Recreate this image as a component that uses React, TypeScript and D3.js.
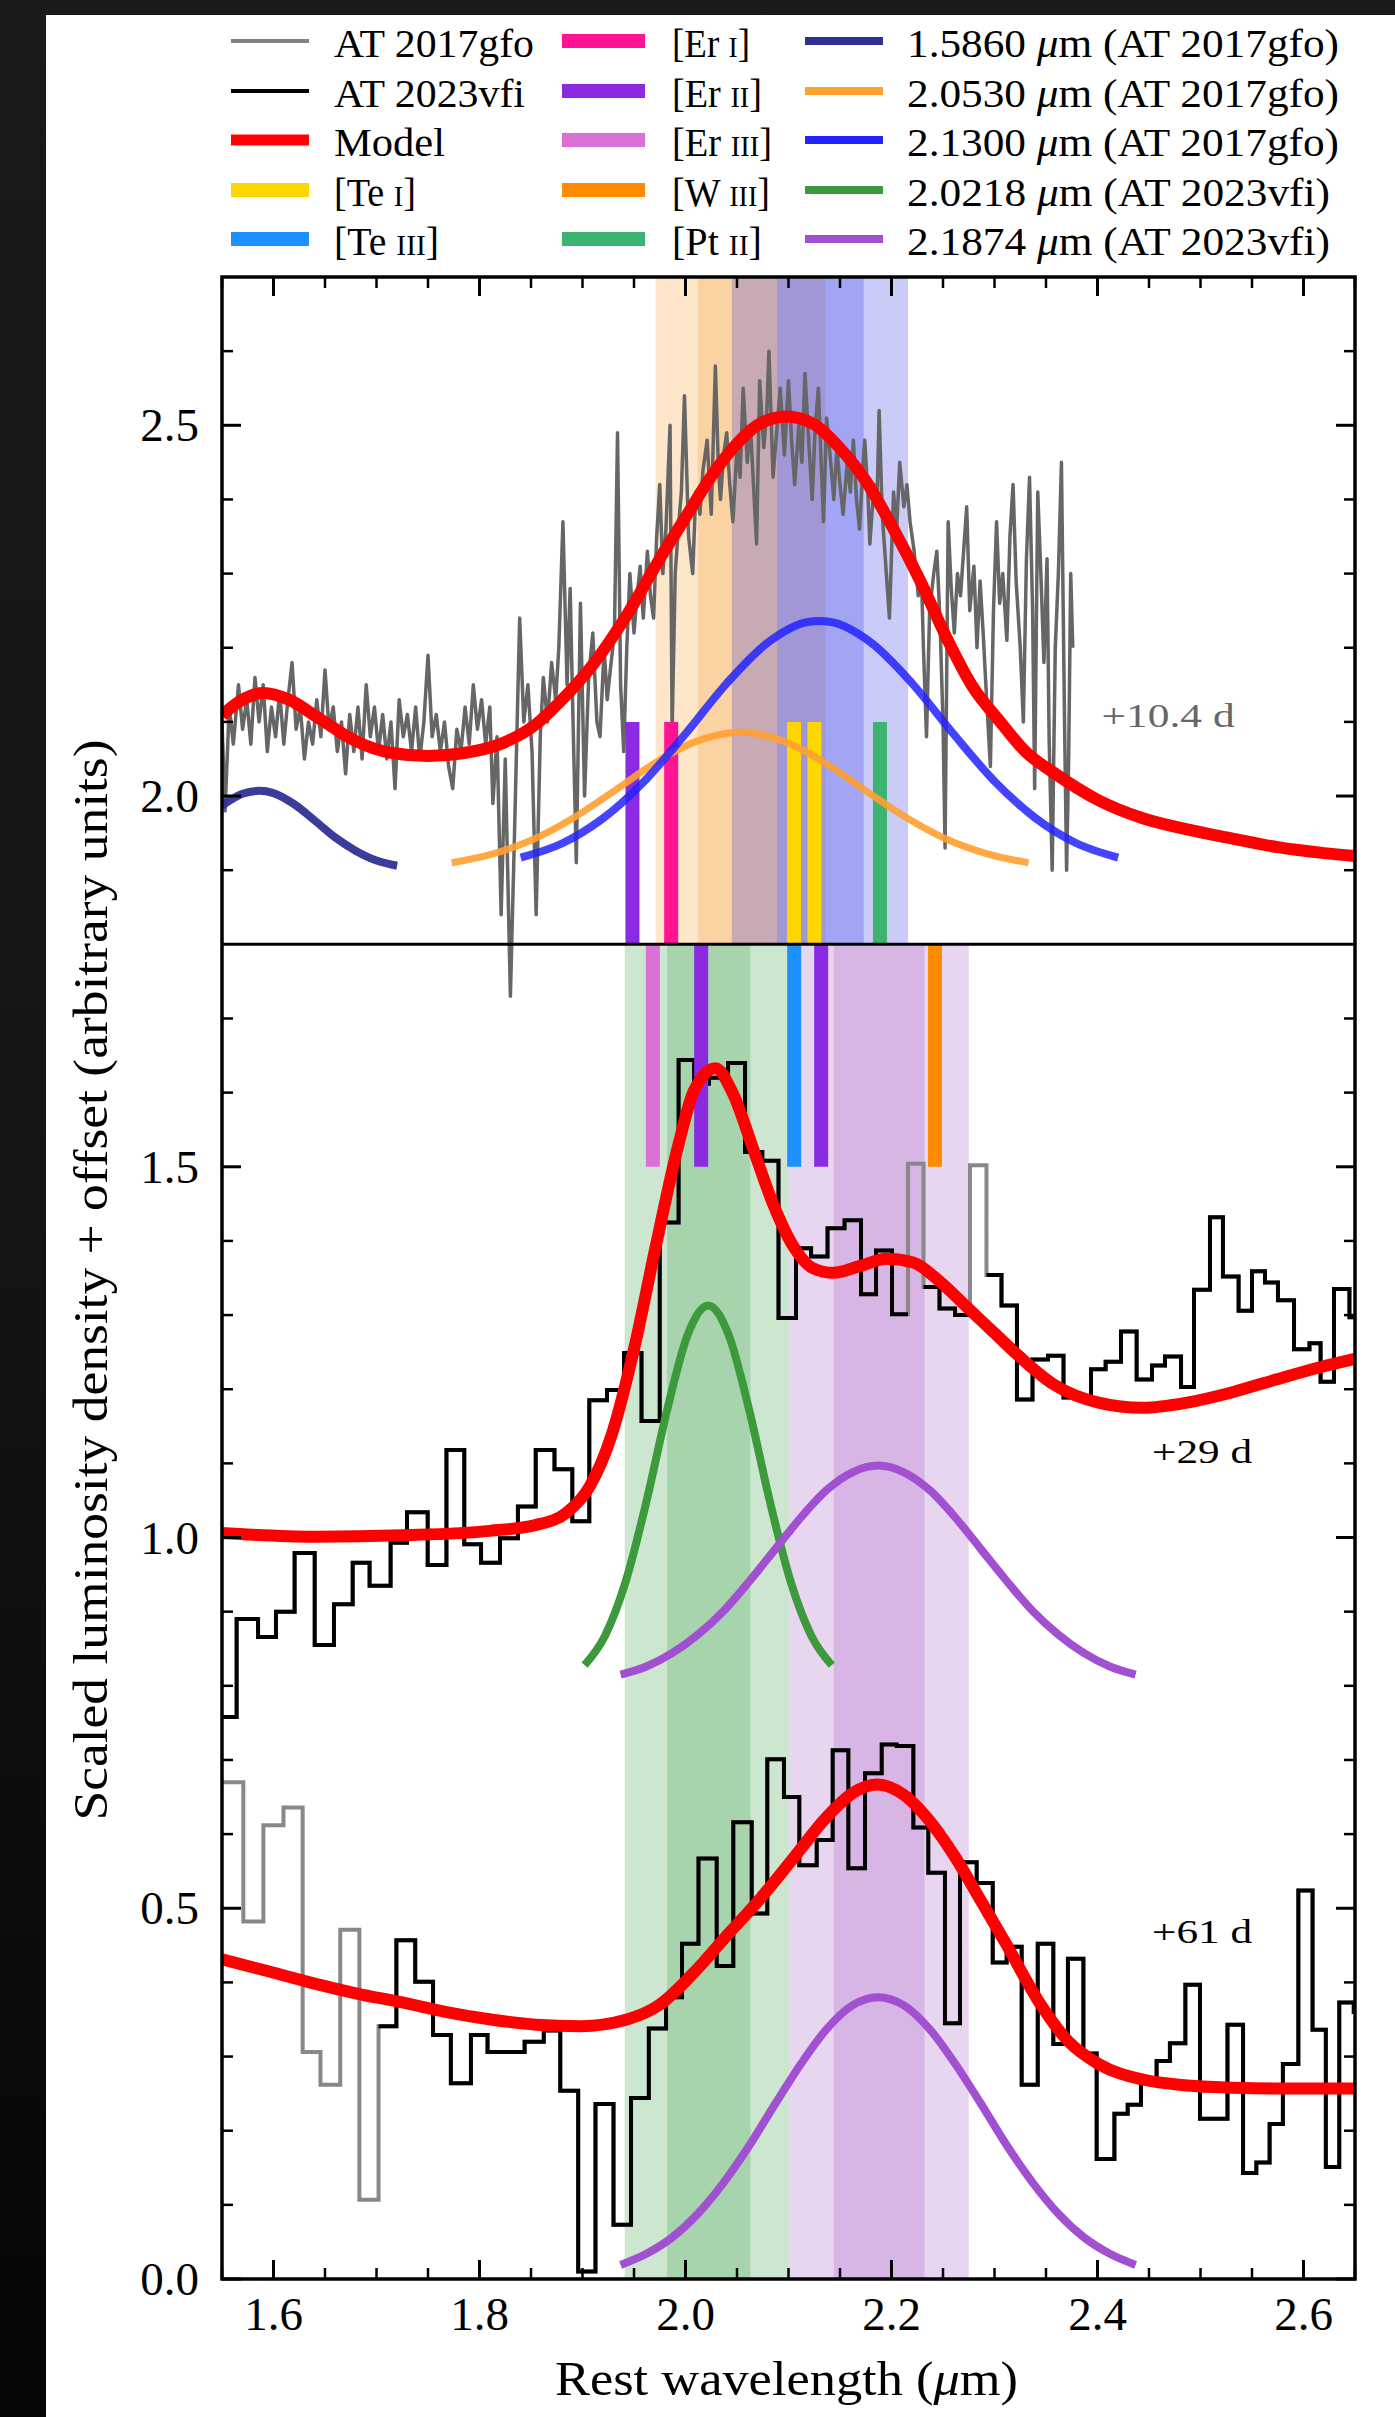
import React from 'react';
import * as d3 from 'd3';

const W = 1395;
const H = 2417;
const FONT = "'Liberation Serif', 'Times New Roman', serif";

// plot frame in page pixels
const FRAME = { left: 222, right: 1355, top: 277, bottom: 2279 };

const xDomain = [1.55, 2.65];
const yDomain = [0, 2.7];
const ySplit = 1.8;

const xTicks = [1.6, 1.8, 2.0, 2.2, 2.4, 2.6];
const xTickLabels = ['1.6', '1.8', '2.0', '2.2', '2.4', '2.6'];
const yTicks = [0, 0.5, 1.0, 1.5, 2.0, 2.5];
const yTickLabels = ['0.0', '0.5', '1.0', '1.5', '2.0', '2.5'];

// AT 2017gfo, +10.4 d (wavelength, flux)
const gfoSpectrum = [
  [1.550, 2.10], [1.553, 1.98], [1.557, 2.12], [1.561, 2.07], [1.566, 2.15], [1.570, 2.09], [1.574, 2.13], [1.578, 2.07],
  [1.582, 2.16], [1.586, 2.10], [1.590, 2.15], [1.594, 2.06], [1.598, 2.12], [1.602, 2.08], [1.606, 2.14], [1.610, 2.07],
  [1.614, 2.13], [1.618, 2.18], [1.622, 2.09], [1.626, 2.12], [1.630, 2.05], [1.634, 2.10], [1.638, 2.07], [1.642, 2.13],
  [1.646, 2.08], [1.650, 2.17], [1.654, 2.09], [1.658, 2.12], [1.662, 2.06], [1.666, 2.10], [1.670, 2.03], [1.674, 2.11],
  [1.678, 2.06], [1.682, 2.12], [1.686, 2.05], [1.690, 2.15], [1.694, 2.08], [1.698, 2.12], [1.702, 2.06], [1.706, 2.11],
  [1.710, 2.05], [1.714, 2.10], [1.718, 2.01], [1.722, 2.13], [1.726, 2.08], [1.730, 2.11], [1.734, 2.06], [1.738, 2.12],
  [1.742, 2.05], [1.746, 2.10], [1.750, 2.19], [1.754, 2.08], [1.758, 2.11], [1.762, 2.06], [1.766, 2.10], [1.770, 2.04],
  [1.774, 2.01], [1.778, 2.09], [1.782, 2.06], [1.786, 2.12], [1.790, 2.07], [1.794, 2.15], [1.798, 2.09], [1.802, 2.13],
  [1.806, 2.07], [1.810, 2.12], [1.813, 1.99], [1.817, 2.08], [1.821, 1.84], [1.825, 2.05], [1.830, 1.73], [1.834, 1.95],
  [1.839, 2.24], [1.843, 2.10], [1.847, 2.15], [1.851, 2.06], [1.855, 1.84], [1.859, 2.08], [1.862, 2.16], [1.866, 2.10],
  [1.870, 2.18], [1.874, 2.13], [1.877, 2.20], [1.881, 2.37], [1.885, 2.15], [1.888, 2.28], [1.891, 2.09], [1.894, 1.91],
  [1.898, 2.26], [1.902, 2.00], [1.906, 2.16], [1.910, 2.22], [1.914, 2.10], [1.917, 2.08], [1.921, 2.20], [1.924, 2.13],
  [1.927, 2.17], [1.931, 2.22], [1.934, 2.49], [1.937, 2.15], [1.940, 2.06], [1.943, 2.20], [1.946, 2.30], [1.950, 2.22],
  [1.953, 2.27], [1.956, 2.31], [1.959, 2.24], [1.963, 2.33], [1.966, 2.27], [1.969, 2.24], [1.972, 2.35], [1.975, 2.42],
  [1.978, 2.30], [1.981, 2.36], [1.985, 2.50], [1.987, 2.09], [1.990, 2.30], [1.993, 2.36], [1.996, 2.41], [1.999, 2.54],
  [2.003, 2.35], [2.007, 2.30], [2.010, 2.41], [2.014, 2.38], [2.017, 2.44], [2.021, 2.48], [2.025, 2.38], [2.029, 2.58],
  [2.032, 2.44], [2.034, 2.40], [2.037, 2.46], [2.040, 2.49], [2.043, 2.42], [2.046, 2.37], [2.050, 2.47], [2.053, 2.43],
  [2.056, 2.55], [2.060, 2.45], [2.063, 2.50], [2.066, 2.42], [2.069, 2.34], [2.072, 2.56], [2.076, 2.47], [2.079, 2.52],
  [2.081, 2.60], [2.085, 2.43], [2.089, 2.50], [2.092, 2.55], [2.096, 2.46], [2.100, 2.56], [2.103, 2.48], [2.106, 2.42],
  [2.110, 2.50], [2.113, 2.45], [2.116, 2.57], [2.120, 2.47], [2.123, 2.40], [2.126, 2.50], [2.129, 2.55], [2.132, 2.44],
  [2.134, 2.37], [2.137, 2.51], [2.141, 2.45], [2.144, 2.40], [2.147, 2.47], [2.150, 2.42], [2.153, 2.38], [2.157, 2.45],
  [2.160, 2.41], [2.163, 2.48], [2.166, 2.40], [2.169, 2.36], [2.172, 2.44], [2.174, 2.48], [2.177, 2.41], [2.179, 2.34],
  [2.183, 2.42], [2.186, 2.40], [2.188, 2.52], [2.191, 2.38], [2.195, 2.30], [2.198, 2.24], [2.202, 2.41], [2.205, 2.36],
  [2.208, 2.45], [2.212, 2.39], [2.215, 2.42], [2.218, 2.37], [2.222, 2.33], [2.226, 2.27], [2.229, 2.30], [2.231, 2.20],
  [2.234, 2.08], [2.237, 2.25], [2.241, 2.30], [2.244, 2.33], [2.247, 2.24], [2.250, 2.10], [2.252, 1.93], [2.255, 2.37],
  [2.258, 2.28], [2.261, 2.22], [2.264, 2.30], [2.267, 2.27], [2.270, 2.33], [2.273, 2.39], [2.276, 2.25], [2.280, 2.31],
  [2.283, 2.20], [2.286, 2.29], [2.289, 2.22], [2.292, 2.14], [2.296, 2.04], [2.299, 2.25], [2.302, 2.37], [2.305, 2.26],
  [2.308, 2.30], [2.312, 2.21], [2.315, 2.35], [2.318, 2.42], [2.321, 2.29], [2.325, 2.20], [2.328, 2.10], [2.331, 2.32],
  [2.334, 2.43], [2.337, 2.25], [2.339, 2.01], [2.342, 2.41], [2.345, 2.30], [2.348, 2.18], [2.351, 2.32], [2.353, 2.08],
  [2.356, 1.90], [2.359, 2.20], [2.362, 2.30], [2.365, 2.45], [2.368, 2.10], [2.370, 1.90], [2.372, 2.05], [2.374, 2.30],
  [2.376, 2.20],
];

// AT 2023vfi +29 d, binned (edges in micron, flux per bin)
const edges29 = [1.5500, 1.5642, 1.5850, 1.6024, 1.6205, 1.6400, 1.6587, 1.6769, 1.6933, 1.7137, 1.7296, 1.7497, 1.7679,
  1.7852, 1.8015, 1.8199, 1.8373, 1.8546, 1.8728, 1.8901, 1.9066, 1.9238, 1.9403, 1.9573, 1.9750, 1.9933, 2.0084, 2.0228,
  2.0413, 2.0578, 2.0746, 2.0903, 2.1073, 2.1219, 2.1379, 2.1544, 2.1704, 2.1850, 2.2005, 2.2160, 2.2311, 2.2466, 2.2617,
  2.2762, 2.2922, 2.3068, 2.3218, 2.3369, 2.3519, 2.3670, 2.3801, 2.3937, 2.4079, 2.4228, 2.4380, 2.4529, 2.4655, 2.4811,
  2.4937, 2.5092, 2.5218, 2.5370, 2.5500, 2.5626, 2.5752, 2.5908, 2.6058, 2.6166, 2.6296, 2.6446, 2.6500];
const flux29 = [0.758, 0.890, 0.866, 0.900, 0.979, 0.855, 0.910, 0.966, 0.935, 0.993, 1.034, 0.963, 1.118, 0.991, 0.966,
  0.999, 1.042, 1.118, 1.092, 1.022, 1.185, 1.199, 1.249, 1.157, 1.425, 1.644, 1.612, 1.620, 1.640, 1.520, 1.508, 1.296,
  1.390, 1.379, 1.417, 1.428, 1.328, 1.387, 1.301, 1.504, 1.338, 1.309, 1.300, 1.502, 1.354, 1.313, 1.186, 1.240, 1.245,
  1.189, 1.189, 1.227, 1.237, 1.278, 1.213, 1.232, 1.244, 1.203, 1.334, 1.432, 1.352, 1.306, 1.359, 1.344, 1.320, 1.254,
  1.262, 1.210, 1.335, 1.297];
const masked29 = [39, 43];

// AT 2023vfi +61 d
const edges61 = [1.5500, 1.5707, 1.5902, 1.6097, 1.6283, 1.6456, 1.6648, 1.6834, 1.7020, 1.7193, 1.7376, 1.7549, 1.7722,
  1.7917, 1.8078, 1.8257, 1.8438, 1.8624, 1.8784, 1.8958, 1.9126, 1.9301, 1.9471, 1.9644, 1.9811, 1.9966, 2.0126, 2.0303,
  2.0464, 2.0643, 2.0794, 2.0956, 2.1105, 2.1274, 2.1429, 2.1581, 2.1743, 2.1905, 2.2050, 2.2212, 2.2357, 2.2519, 2.2665,
  2.2827, 2.2983, 2.3118, 2.3264, 2.3420, 2.3571, 2.3713, 2.3863, 2.3992, 2.4164, 2.4293, 2.4422, 2.4574, 2.4703, 2.4853,
  2.4995, 2.5133, 2.5262, 2.5413, 2.5542, 2.5671, 2.5800, 2.5950, 2.6088, 2.6217, 2.6347, 2.6488, 2.6500];
const flux61 = [0.670, 0.482, 0.612, 0.636, 0.306, 0.262, 0.471, 0.107, 0.341, 0.457, 0.401, 0.329, 0.264, 0.329, 0.306,
  0.306, 0.320, 0.335, 0.254, 0.010, 0.236, 0.073, 0.244, 0.338, 0.380, 0.452, 0.567, 0.422, 0.616, 0.493, 0.701, 0.650,
  0.558, 0.592, 0.713, 0.554, 0.682, 0.721, 0.719, 0.609, 0.548, 0.345, 0.562, 0.534, 0.427, 0.448, 0.262, 0.452, 0.317,
  0.432, 0.304, 0.162, 0.223, 0.235, 0.266, 0.294, 0.318, 0.397, 0.216, 0.216, 0.343, 0.143, 0.157, 0.209, 0.290, 0.524,
  0.336, 0.151, 0.373, 0.360];
const masked61 = [0, 1, 2, 3, 4, 5, 6, 7];

// model curves
const model10 = [[1.55, 2.109], [1.57, 2.130], [1.59, 2.139], [1.615, 2.130], [1.645, 2.104], [1.68, 2.074], [1.715, 2.058],
  [1.75, 2.054], [1.785, 2.058], [1.82, 2.070], [1.855, 2.097], [1.878, 2.127], [1.9105, 2.178], [1.943, 2.244],
  [1.975, 2.320], [2.001, 2.378], [2.024, 2.429], [2.046, 2.469], [2.072, 2.502], [2.098, 2.512], [2.124, 2.502],
  [2.150, 2.469], [2.176, 2.423], [2.202, 2.360], [2.228, 2.290], [2.254, 2.212], [2.279, 2.147], [2.305, 2.101],
  [2.330, 2.060], [2.358, 2.031], [2.40, 1.995], [2.444, 1.970], [2.487, 1.955], [2.53, 1.943], [2.575, 1.931],
  [2.62, 1.923], [2.65, 1.919]];
const model29 = [[1.55, 1.006], [1.64, 1.001], [1.725, 1.003], [1.81, 1.009], [1.855, 1.017], [1.885, 1.034], [1.907, 1.069],
  [1.928, 1.137], [1.950, 1.254], [1.971, 1.392], [1.993, 1.529], [2.008, 1.602], [2.029, 1.633], [2.046, 1.599],
  [2.066, 1.523], [2.085, 1.450], [2.105, 1.392], [2.124, 1.363], [2.1435, 1.357], [2.169, 1.366], [2.195, 1.376],
  [2.221, 1.371], [2.247, 1.345], [2.273, 1.311], [2.299, 1.277], [2.325, 1.243], [2.358, 1.206], [2.401, 1.182],
  [2.444, 1.175], [2.487, 1.182], [2.531, 1.196], [2.573, 1.213], [2.617, 1.230], [2.65, 1.241]];
const model61 = [[1.55, 0.431], [1.595, 0.415], [1.638, 0.399], [1.681, 0.385], [1.725, 0.373], [1.768, 0.360],
  [1.811, 0.350], [1.855, 0.343], [1.898, 0.341], [1.943, 0.350], [1.975, 0.370], [2.008, 0.413], [2.040, 0.463],
  [2.072, 0.512], [2.105, 0.568], [2.137, 0.623], [2.163, 0.656], [2.186, 0.667], [2.212, 0.653], [2.234, 0.623],
  [2.260, 0.573], [2.286, 0.512], [2.312, 0.450], [2.344, 0.372], [2.372, 0.320], [2.401, 0.290], [2.444, 0.269],
  [2.487, 0.261], [2.531, 0.258], [2.573, 0.257], [2.65, 0.257]];

// line components
const comp1586 = [[1.55, 1.987], [1.57, 2.003], [1.586, 2.007], [1.60, 2.004], [1.62, 1.989], [1.64, 1.967], [1.66, 1.944],
  [1.68, 1.926], [1.70, 1.913], [1.72, 1.906]];
const comp2053 = [[1.773, 1.910], [1.813, 1.922], [1.853, 1.942], [1.893, 1.972], [1.933, 2.009], [1.973, 2.047],
  [2.013, 2.075], [2.053, 2.086], [2.093, 2.075], [2.133, 2.047], [2.173, 2.009], [2.213, 1.972], [2.253, 1.942],
  [2.293, 1.922], [2.333, 1.910]];
const comp2130 = [[1.84, 1.917], [1.88, 1.936], [1.92, 1.970], [1.96, 2.020], [2.00, 2.084], [2.04, 2.152], [2.08, 2.207],
  [2.12, 2.235], [2.13, 2.236], [2.14, 2.235], [2.18, 2.207], [2.22, 2.152], [2.26, 2.084], [2.30, 2.020], [2.34, 1.970],
  [2.38, 1.936], [2.42, 1.917]];
const comp2218 = [[1.902, 0.828], [1.922, 0.868], [1.942, 0.941], [1.962, 1.048], [1.982, 1.171], [2.002, 1.273],
  [2.022, 1.313], [2.042, 1.273], [2.062, 1.171], [2.082, 1.048], [2.102, 0.941], [2.122, 0.868], [2.142, 0.828]];
const comp21874a = [[1.937, 0.815], [1.962, 0.826], [1.987, 0.844], [2.012, 0.869], [2.037, 0.901], [2.062, 0.941],
  [2.087, 0.984], [2.112, 1.027], [2.137, 1.064], [2.162, 1.088], [2.187, 1.097], [2.212, 1.088], [2.237, 1.064],
  [2.262, 1.027], [2.287, 0.984], [2.312, 0.941], [2.337, 0.901], [2.362, 0.869], [2.387, 0.844], [2.412, 0.826],
  [2.437, 0.815]];
const comp21874b = [[1.937, 0.019], [1.962, 0.034], [1.987, 0.056], [2.012, 0.088], [2.037, 0.130], [2.062, 0.180],
  [2.087, 0.236], [2.112, 0.290], [2.137, 0.337], [2.162, 0.369], [2.187, 0.380], [2.212, 0.369], [2.237, 0.337],
  [2.262, 0.290], [2.287, 0.236], [2.312, 0.180], [2.337, 0.130], [2.362, 0.088], [2.387, 0.056], [2.412, 0.034],
  [2.437, 0.019]];

// shaded line widths [lo, hi] in micron
const bandsTop = [
  { lo: 1.971, hi: 2.136, color: '#f79a2a' },
  { lo: 2.012, hi: 2.089, color: '#f79a2a' },
  { lo: 2.045, hi: 2.216, color: '#2a2ee6' },
  { lo: 2.089, hi: 2.173, color: '#2a2ee6' },
];
const bandsBottom = [
  { lo: 1.941, hi: 2.101, color: '#379b43' },
  { lo: 1.982, hi: 2.063, color: '#379b43' },
  { lo: 2.101, hi: 2.275, color: '#a357c3' },
  { lo: 2.144, hi: 2.232, color: '#a357c3' },
];

const ionColors = {
  'Te I': '#ffd700', 'Te III': '#1e90ff', 'Er I': '#ff1493', 'Er II': '#8a2be2',
  'Er III': '#da70d6', 'W III': '#ff8c00', 'Pt II': '#3cb371',
};
const ionLinesTop = [
  { wl: 1.9485, ion: 'Er II' }, { wl: 1.9861, ion: 'Er I' }, { wl: 2.1053, ion: 'Te I' },
  { wl: 2.1252, ion: 'Te I' }, { wl: 2.1888, ion: 'Pt II' },
];
const ionLinesBottom = [
  { wl: 1.9683, ion: 'Er III' }, { wl: 2.0152, ion: 'Er II' }, { wl: 2.1055, ion: 'Te III' },
  { wl: 2.1317, ion: 'Er II' }, { wl: 2.2422, ion: 'W III' },
];

const epochLabels = [
  { text: '+10.4 d', wl: 2.404, val: 2.093, color: '#666666', len: 133 },
  { text: '+29 d', wl: 2.453, val: 1.100, color: '#000000', len: 100 },
  { text: '+61 d', wl: 2.453, val: 0.453, color: '#000000', len: 100 },
];

// legend: label pieces ['text', style], style 'sc' = small caps, 'it' = italic
const legendCol1 = [
  { parts: [['AT 2017gfo']], color: '#808080', lw: 4, len: 200 },
  { parts: [['AT 2023vfi']], color: '#000000', lw: 4, len: 191 },
  { parts: [['Model']], color: '#ff0000', lw: 11, len: 111 },
  { parts: [['[Te '], ['I', 'sc'], [']']], color: ionColors['Te I'], lw: 14, len: 82 },
  { parts: [['[Te '], ['III', 'sc'], [']']], color: ionColors['Te III'], lw: 14, len: 105 },
];
const legendCol2 = [
  { parts: [['[Er '], ['I', 'sc'], [']']], color: ionColors['Er I'], lw: 14, len: 78 },
  { parts: [['[Er '], ['II', 'sc'], [']']], color: ionColors['Er II'], lw: 14, len: 90 },
  { parts: [['[Er '], ['III', 'sc'], [']']], color: ionColors['Er III'], lw: 14, len: 100 },
  { parts: [['[W '], ['III', 'sc'], [']']], color: ionColors['W III'], lw: 14, len: 98 },
  { parts: [['[Pt '], ['II', 'sc'], [']']], color: ionColors['Pt II'], lw: 14, len: 90 },
];
const legendCol3 = [
  { parts: [['1.5860 '], ['μ', 'it'], ['m (AT 2017gfo)']], color: '#2e3192', lw: 8, len: 432 },
  { parts: [['2.0530 '], ['μ', 'it'], ['m (AT 2017gfo)']], color: '#ffa030', lw: 8, len: 432 },
  { parts: [['2.1300 '], ['μ', 'it'], ['m (AT 2017gfo)']], color: '#2323ff', lw: 8, len: 432 },
  { parts: [['2.0218 '], ['μ', 'it'], ['m (AT 2023vfi)']], color: '#3c9a3c', lw: 8, len: 423 },
  { parts: [['2.1874 '], ['μ', 'it'], ['m (AT 2023vfi)']], color: '#a050d0', lw: 8, len: 423 },
];

const Label = ({ parts, x, y, size, len }) => (
  <text x={x} y={y} fontSize={size} fontFamily={FONT} textLength={len} lengthAdjust="spacingAndGlyphs">
    {parts.map((p, i) => (
      <tspan key={i} fontSize={p[1] === 'sc' ? size * 0.74 : size} fontStyle={p[1] === 'it' ? 'italic' : 'normal'}>
        {p[0]}
      </tspan>
    ))}
  </text>
);

export default function App() {
  const x = d3.scaleLinear().domain(xDomain).range([FRAME.left, FRAME.right]);
  const y = d3.scaleLinear().domain(yDomain).range([FRAME.bottom, FRAME.top]);

  const smooth = d3.line().x(d => x(d[0])).y(d => y(d[1])).curve(d3.curveMonotoneX);
  const raw = d3.line().x(d => x(d[0])).y(d => y(d[1]));
  const step = d3.line().x(d => x(d[0])).y(d => y(d[1])).curve(d3.curveStepAfter);

  const stepPoints = (edges, vals, i0, i1) => {
    const pts = [];
    for (let i = i0; i < i1; i++) pts.push([edges[i], vals[i]]);
    pts.push([edges[i1], vals[i1 - 1]]);
    return pts;
  };
  // contiguous unmasked runs of bins
  const runs = (n, masked) => {
    const out = [];
    let start = -1;
    for (let i = 0; i <= n; i++) {
      const ok = i < n && !masked.includes(i);
      if (ok && start < 0) start = i;
      if (!ok && start >= 0) { out.push([start, i]); start = -1; }
    }
    return out;
  };

  const round = v => Math.round(v * 1000) / 1000;
  const xMinor = d3.range(1.55, 2.651, 0.05).map(round).filter(v => !xTicks.some(t => Math.abs(t - v) < 1e-6));
  const yMinor = d3.range(0.1, 2.65, 0.1).map(round)
    .filter(v => !yTicks.some(t => Math.abs(t - v) < 1e-6) && Math.abs(v - ySplit) > 1e-6);

  const ySplitPx = y(ySplit);
  const majLen = 19;
  const minLen = 11;

  const legendRows = [57, 107, 156, 206, 255];
  const legendCols = [
    { items: legendCol1, hx0: 231, hx1: 309, tx: 334 },
    { items: legendCol2, hx0: 562, hx1: 645, tx: 672 },
    { items: legendCol3, hx0: 805, hx1: 883, tx: 907 },
  ];

  return (
    <svg width={W} height={H} viewBox={`0 0 ${W} ${H}`}
      style={{ position: 'absolute', left: 0, top: 0, display: 'block' }}>
      <defs>
        <linearGradient id="bg" x1="0" y1="0" x2="0" y2="1">
          <stop offset="0" stopColor="#1a1a1a" />
          <stop offset="0.5" stopColor="#141414" />
          <stop offset="1" stopColor="#050505" />
        </linearGradient>
        <clipPath id="plotClip">
          <rect x={FRAME.left} y={FRAME.top} width={FRAME.right - FRAME.left} height={FRAME.bottom - FRAME.top} />
        </clipPath>
      </defs>

      <rect x={0} y={0} width={W} height={H} fill="url(#bg)" />
      <rect x={46} y={15} width={W - 46} height={H - 15} fill="#ffffff" />

      {/* legend */}
      {legendCols.map((col, ci) => col.items.map((it, ri) => (
        <g key={`lg${ci}-${ri}`}>
          <line x1={col.hx0} x2={col.hx1} y1={legendRows[ri] - 16} y2={legendRows[ri] - 16}
            stroke={it.color} strokeWidth={it.lw} />
          <Label parts={it.parts} x={col.tx} y={legendRows[ri]} size={39} len={it.len} />
        </g>
      )))}

      <g clipPath="url(#plotClip)">
        {/* shaded regions */}
        {bandsTop.map((b, i) => (
          <rect key={`bt${i}`} x={x(b.lo)} width={x(b.hi) - x(b.lo)} y={y(yDomain[1])}
            height={ySplitPx - y(yDomain[1])} fill={b.color} fillOpacity={0.25} />
        ))}
        {bandsBottom.map((b, i) => (
          <rect key={`bb${i}`} x={x(b.lo)} width={x(b.hi) - x(b.lo)} y={ySplitPx}
            height={y(0) - ySplitPx} fill={b.color} fillOpacity={0.25} />
        ))}

        {/* spectra */}
        <path d={raw(gfoSpectrum)} fill="none" stroke="#666666" strokeWidth={3.5} strokeLinejoin="round" />
        <path d={step(stepPoints(edges29, flux29, 0, flux29.length))} fill="none" stroke="#888888" strokeWidth={4} />
        <path d={step(stepPoints(edges61, flux61, 0, flux61.length))} fill="none" stroke="#888888" strokeWidth={4} />
        {runs(flux29.length, masked29).map(([a, b]) => (
          <path key={`r29${a}`} d={step(stepPoints(edges29, flux29, a, b))} fill="none" stroke="#000" strokeWidth={4} />
        ))}
        {runs(flux61.length, masked61).map(([a, b]) => (
          <path key={`r61${a}`} d={step(stepPoints(edges61, flux61, a, b))} fill="none" stroke="#000" strokeWidth={4} />
        ))}

        {/* ion markers */}
        {ionLinesTop.map((l, i) => (
          <line key={`it${i}`} x1={x(l.wl)} x2={x(l.wl)} y1={ySplitPx} y2={y(2.1)}
            stroke={ionColors[l.ion]} strokeWidth={14} />
        ))}
        {ionLinesBottom.map((l, i) => (
          <line key={`ib${i}`} x1={x(l.wl)} x2={x(l.wl)} y1={ySplitPx} y2={y(1.5)}
            stroke={ionColors[l.ion]} strokeWidth={14} />
        ))}

        {/* components */}
        <path d={smooth(comp1586)} fill="none" stroke="#2e3192" strokeWidth={8} strokeOpacity={0.95} />
        <path d={smooth(comp2053)} fill="none" stroke="#ffa030" strokeWidth={7} strokeOpacity={0.9} />
        <path d={smooth(comp2130)} fill="none" stroke="#2323ff" strokeWidth={8} strokeOpacity={0.85} />
        <path d={smooth(comp2218)} fill="none" stroke="#3c9a3c" strokeWidth={8} />
        <path d={smooth(comp21874a)} fill="none" stroke="#a050d0" strokeWidth={8} />
        <path d={smooth(comp21874b)} fill="none" stroke="#a050d0" strokeWidth={8} />

        {/* models */}
        {[model10, model29, model61].map((m, i) => (
          <path key={`m${i}`} d={smooth(m)} fill="none" stroke="#ff0000" strokeWidth={12} strokeLinejoin="round" />
        ))}
      </g>

      {/* epoch labels */}
      {epochLabels.map((e, i) => (
        <text key={`ep${i}`} x={x(e.wl)} y={y(e.val)} fontSize={33} fontFamily={FONT} fill={e.color}
          textLength={e.len} lengthAdjust="spacingAndGlyphs">{e.text}</text>
      ))}

      {/* divider and frame */}
      <line x1={FRAME.left} x2={FRAME.right} y1={ySplitPx} y2={ySplitPx} stroke="#000" strokeWidth={3} />
      <rect x={FRAME.left} y={FRAME.top} width={FRAME.right - FRAME.left} height={FRAME.bottom - FRAME.top}
        fill="none" stroke="#000" strokeWidth={3.5} />

      {/* x ticks, top and bottom */}
      {xTicks.map(t => (
        <g key={`xt${t}`} stroke="#000" strokeWidth={3}>
          <line x1={x(t)} x2={x(t)} y1={FRAME.bottom} y2={FRAME.bottom - majLen} />
          <line x1={x(t)} x2={x(t)} y1={FRAME.top} y2={FRAME.top + majLen} />
        </g>
      ))}
      {xMinor.map(t => (
        <g key={`xm${t}`} stroke="#000" strokeWidth={2.5}>
          <line x1={x(t)} x2={x(t)} y1={FRAME.bottom} y2={FRAME.bottom - minLen} />
          <line x1={x(t)} x2={x(t)} y1={FRAME.top} y2={FRAME.top + minLen} />
        </g>
      ))}
      {/* y ticks, left and right */}
      {yTicks.map(t => (
        <g key={`yt${t}`} stroke="#000" strokeWidth={3}>
          <line x1={FRAME.left} x2={FRAME.left + majLen} y1={y(t)} y2={y(t)} />
          <line x1={FRAME.right} x2={FRAME.right - majLen} y1={y(t)} y2={y(t)} />
        </g>
      ))}
      {yMinor.map(t => (
        <g key={`ym${t}`} stroke="#000" strokeWidth={2.5}>
          <line x1={FRAME.left} x2={FRAME.left + minLen} y1={y(t)} y2={y(t)} />
          <line x1={FRAME.right} x2={FRAME.right - minLen} y1={y(t)} y2={y(t)} />
        </g>
      ))}

      {/* tick labels */}
      {xTicks.map((t, i) => (
        <text key={`xl${t}`} x={x(t)} y={FRAME.bottom + 51} fontSize={47} fontFamily={FONT}
          textAnchor="middle">{xTickLabels[i]}</text>
      ))}
      {yTicks.map((t, i) => (
        <text key={`yl${t}`} x={FRAME.left - 23} y={y(t) + 16} fontSize={47} fontFamily={FONT}
          textAnchor="end">{yTickLabels[i]}</text>
      ))}

      {/* axis labels */}
      <text x={(FRAME.left + FRAME.right) / 2 - 2} y={2395} fontSize={48} fontFamily={FONT} textAnchor="middle"
        textLength={463} lengthAdjust="spacingAndGlyphs">
        Rest wavelength (<tspan fontStyle="italic">μ</tspan>m)
      </text>
      <text transform={`translate(107,${(FRAME.top + FRAME.bottom) / 2 + 2}) rotate(-90)`} fontSize={48}
        fontFamily={FONT} textAnchor="middle" textLength={1081} lengthAdjust="spacingAndGlyphs">
        Scaled luminosity density + offset (arbitrary units)
      </text>
    </svg>
  );
}
